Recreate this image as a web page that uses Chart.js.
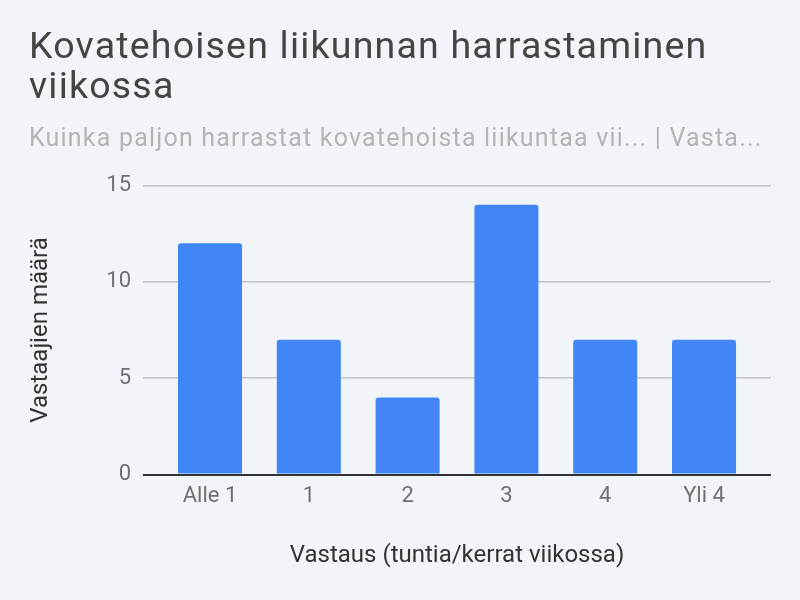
<!DOCTYPE html>
<html>
<head>
<meta charset="utf-8">
<script src="https://cdn.jsdelivr.net/npm/chart.js@4"></script>
<style>
  html, body { margin: 0; padding: 0; background: #f1f4f9; }
  #wrap { width: 800px; height: 600px; position: relative; }
</style>
</head>
<body>
<div id="wrap"><canvas id="viikkoChart"></canvas></div>
<script>
// vastausvaihtoehdot ja vastaajien määrät
const categories = ['Alle 1', '1', '2', '3', '4', 'Yli 4']
const counts = [12, 7, 4, 14, 7, 7]
const yTicks = [0, 5, 10, 15]

// otsikoille hieman harvempi kirjainväli (title + subtitle ovat ainoat laatikot initin jälkeen)
const titleSpacing = {
  id: 'titleSpacing',
  afterInit(chart) {
    chart.boxes.forEach((box) => {
      const draw = box.draw.bind(box)
      box.draw = (area) => {
        chart.ctx.save()
        chart.ctx.letterSpacing = '1.2px'
        draw(area)
        chart.ctx.restore()
      }
    })
  }
}

document.addEventListener('DOMContentLoaded', () => {
  const ctx = document.querySelector('#viikkoChart')
  if (!ctx) return

  Chart.defaults.font.family = 'Roboto'

  // lineaarinen x-akseli, jotta ruudukko jatkuu palkkien ohi
  const points = counts.map((v, i) => ({ x: i, y: v }))

  new Chart(ctx, {
    type: 'bar',
    data: {
      datasets: [{
        data: points,
        backgroundColor: '#4285f4',
        borderRadius: 3,
        borderSkipped: 'start',
        categoryPercentage: 1,
        barPercentage: 0.648
      }]
    },
    plugins: [titleSpacing],
    options: {
      responsive: true,
      maintainAspectRatio: false,
      animation: false,
      layout: {
        padding: { left: 29, right: 29, top: 0, bottom: 10 }
      },
      plugins: {
        legend: { display: false },
        tooltip: { enabled: false },
        title: {
          display: true,
          align: 'start',
          text: ['Kovatehoisen liikunnan harrastaminen', 'viikossa'],
          color: '#444444',
          font: { size: 37.5, weight: 'normal', lineHeight: 1.0667 },
          padding: { top: 28.5, bottom: 0 }
        },
        subtitle: {
          display: true,
          align: 'start',
          text: 'Kuinka paljon harrastat kovatehoista liikuntaa vii... | Vasta...',
          color: '#b4b4b4',
          font: { size: 25, lineHeight: 1.2 },
          padding: { top: 16, bottom: 31 }
        }
      },
      scales: {
        x: {
          type: 'linear',
          offset: false,
          min: -0.678,
          max: 5.678,
          afterBuildTicks: (scale) => {
            scale.ticks = categories.map((c, i) => ({ value: i }))
          },
          grid: { display: false, drawTicks: false },
          border: { display: false },
          ticks: {
            autoSkip: false,
            maxRotation: 0,
            padding: 8.5,
            color: '#707070',
            font: { size: 22 },
            callback: (value) => categories[value]
          },
          title: {
            display: true,
            text: 'Vastaus (tuntia/kerrat viikossa)',
            color: '#333333',
            font: { size: 24, lineHeight: 1.2 },
            padding: { top: 23.2, bottom: 20.1 }
          }
        },
        y: {
          min: 0,
          max: 15,
          afterBuildTicks: (scale) => {
            scale.ticks = yTicks.map((v) => ({ value: v }))
          },
          border: { display: false },
          grid: {
            drawTicks: false,
            color: (c) => c.tick && c.tick.value === 0 ? '#333333' : '#c2c4c8',
            lineWidth: (c) => c.tick && c.tick.value === 0 ? 2 : 1.5
          },
          ticks: {
            padding: 12,
            color: '#707070',
            font: { size: 22 }
          },
          title: {
            display: true,
            text: 'Vastaajien määrä',
            color: '#333333',
            font: { size: 24, lineHeight: 1 },
            padding: { top: 0, bottom: 41.3 }
          }
        }
      }
    }
  })
})
</script>
</body>
</html>
